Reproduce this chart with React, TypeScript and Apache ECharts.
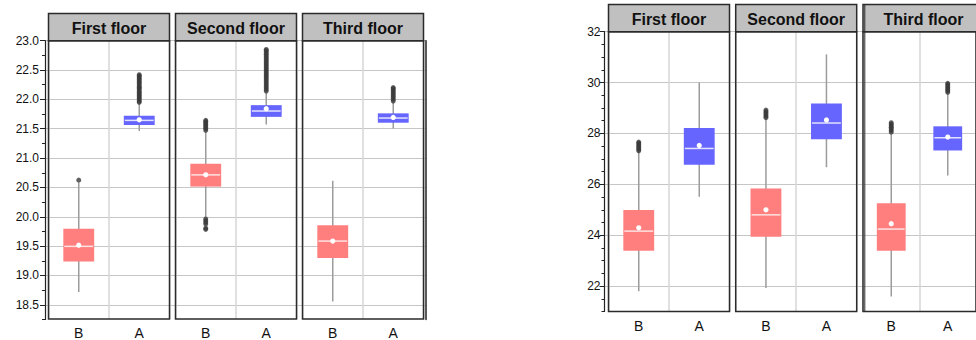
import React, { useEffect, useRef } from 'react';
import * as echarts from 'echarts';

const floors = ['First floor', 'Second floor', 'Third floor'];
const categories = ['B', 'A'];

// each row: [min, Q1, median, Q3, max, mean]  (row 0 = B, row 1 = A)
const leftFirstStats = [
  [18.71, 19.23, 19.49, 19.79, 20.58, 19.51],
  [21.46, 21.56, 21.64, 21.72, 21.93, 21.65],
];
const leftSecondStats = [
  [20.0, 20.51, 20.71, 20.9, 21.45, 20.71],
  [21.57, 21.7, 21.8, 21.9, 22.12, 21.84],
];
const leftThirdStats = [
  [18.55, 19.29, 19.58, 19.85, 20.61, 19.58],
  [21.5, 21.6, 21.68, 21.76, 21.95, 21.69],
];

const rightFirstStats = [
  [21.8, 23.39, 24.16, 24.99, 27.28, 24.29],
  [25.51, 26.77, 27.41, 28.21, 30.0, 27.53],
];
const rightSecondStats = [
  [21.92, 23.94, 24.8, 25.84, 28.58, 25.0],
  [26.67, 27.77, 28.41, 29.18, 31.11, 28.53],
];
const rightThirdStats = [
  [21.59, 23.39, 24.24, 25.26, 28.0, 24.45],
  [26.35, 27.33, 27.83, 28.28, 29.58, 27.86],
];

// outliers: [B values, A values]
const leftFirstOutliers = [
  [20.62],
  [21.95, 21.97, 22.0, 22.02, 22.05, 22.07, 22.1, 22.12, 22.15, 22.18, 22.2, 22.22, 22.25, 22.28, 22.3, 22.33, 22.35, 22.38, 22.4, 22.42],
];
const leftSecondOutliers = [
  [21.47, 21.5, 21.52, 21.55, 21.57, 21.6, 21.62, 21.64, 19.96, 19.93, 19.9, 19.87, 19.8, 19.78],
  [22.14, 22.17, 22.2, 22.23, 22.26, 22.29, 22.32, 22.35, 22.38, 22.41, 22.44, 22.47, 22.5, 22.53, 22.56, 22.59, 22.62, 22.65, 22.68, 22.71, 22.74, 22.77, 22.8, 22.83, 22.85],
];
const leftThirdOutliers = [
  [],
  [21.97, 22.0, 22.03, 22.06, 22.09, 22.12, 22.15, 22.18, 22.2],
];

const rightFirstOutliers = [
  [27.32, 27.38, 27.44, 27.5, 27.56, 27.62, 27.66],
  [],
];
const rightSecondOutliers = [
  [28.62, 28.68, 28.74, 28.8, 28.86, 28.92],
  [],
];
const rightThirdOutliers = [
  [28.05, 28.12, 28.18, 28.24, 28.3, 28.36, 28.42],
  [29.62, 29.68, 29.74, 29.8, 29.86, 29.92, 29.97],
];

const leftTicks = [18.5, 19.0, 19.5, 20.0, 20.5, 21.0, 21.5, 22.0, 22.5, 23.0];
const rightTicks = [22, 24, 26, 28, 30, 32];

const COLOR_B = '#ff7f7f';
const COLOR_A = '#6666ff';
const FONT = '"Liberation Sans", Arial, Helvetica, sans-serif';

type ChartDef = {
  top: number;
  bottom: number;
  axisX: number;
  rightLine: number | null;
  panelLefts: number[];
  panelW: number;
  headerTop: number;
  min: number;
  max: number;
  interval: number;
  ticks: number[];
  fmt: (v: number) => string;
  labelMargin: number;
  stats: number[][][];
  outliers: number[][][];
};

const charts: ChartDef[] = [
  {
    top: 40.7,
    bottom: 319.5,
    axisX: 45,
    rightLine: 426,
    panelLefts: [48.5, 175.5, 302.5],
    panelW: 121,
    headerTop: 13.5,
    min: 18.25,
    max: 23,
    interval: 0.25,
    ticks: leftTicks,
    fmt: (v) => v.toFixed(1),
    labelMargin: 6,
    stats: [leftFirstStats, leftSecondStats, leftThirdStats],
    outliers: [leftFirstOutliers, leftSecondOutliers, leftThirdOutliers],
  },
  {
    top: 31.7,
    bottom: 311.5,
    axisX: 604.5,
    rightLine: null,
    panelLefts: [608.5, 735.7, 863],
    panelW: 121,
    headerTop: 4.5,
    min: 21,
    max: 32,
    interval: 0.5,
    ticks: rightTicks,
    fmt: (v) => String(v),
    labelMargin: 4,
    stats: [rightFirstStats, rightSecondStats, rightThirdStats],
    outliers: [rightFirstOutliers, rightSecondOutliers, rightThirdOutliers],
  },
];

function buildOption() {
  const grid: any[] = [];
  const xAxis: any[] = [];
  const yAxis: any[] = [];
  const series: any[] = [];
  const graphic: any[] = [];

  charts.forEach((c, ci0) => {
    const height = c.bottom - c.top;
    // background grid with horizontal grid lines and the y axis
    const bgIndex = grid.length;
    const bgRight = c.rightLine !== null ? c.rightLine : 1100;
    grid.push({ left: c.axisX, top: c.top, width: bgRight - c.axisX, height, show: false });
    xAxis.push({ gridIndex: bgIndex, type: 'value', show: false, min: 0, max: 1 });
    yAxis.push({
      gridIndex: bgIndex,
      type: 'value',
      position: 'left',
      min: c.min,
      max: c.max,
      interval: c.interval,
      z: 1,
      axisLine: { show: true, lineStyle: { color: '#222', width: 1.2 } },
      axisTick: { show: true, customValues: c.ticks, length: 5, lineStyle: { color: '#222', width: 1 } },
      axisLabel: {
        show: true,
        customValues: c.ticks,
        formatter: (v: number) => c.fmt(v),
        fontSize: 12,
        fontFamily: FONT,
        color: '#111',
        margin: c.labelMargin,
      },
      splitLine: { show: true, lineStyle: { color: '#c6c6c6', width: 1 } },
    });
    yAxis.push({
      gridIndex: bgIndex,
      type: 'value',
      position: 'left',
      offset: 0,
      min: c.min,
      max: c.max,
      interval: c.interval,
      z: 1,
      axisLine: { show: false, onZero: false },
      axisTick: { show: true, length: 3, lineStyle: { color: '#222', width: 1 } },
      axisLabel: { show: false },
      splitLine: { show: false },
    });
    if (c.rightLine !== null) {
      yAxis.push({
        gridIndex: bgIndex,
        type: 'value',
        position: 'right',
        min: c.min,
        max: c.max,
        interval: c.interval,
        z: 6,
        axisLine: { show: true, lineStyle: { color: '#222', width: 1.5 } },
        axisTick: { show: false },
        axisLabel: { show: false },
        splitLine: { show: false },
      });
    }

    c.panelLefts.forEach((pl, p) => {
      const gi = grid.length;
      grid.push({
        left: pl,
        top: c.top,
        width: c.panelW,
        height,
        show: true,
        z: 5,
        backgroundColor: 'transparent',
        borderColor: '#2b2b2b',
        borderWidth: 1.5,
      });
      const xi = xAxis.length;
      xAxis.push({
        gridIndex: gi,
        type: 'category',
        data: categories,
        z: 1,
        axisLine: { show: false },
        axisTick: { show: false },
        axisLabel: { fontSize: 14, fontFamily: FONT, color: '#111', margin: 7 },
        splitLine: { show: true, lineStyle: { color: '#d6d6d6', width: 1.5 } },
      });
      const yi = yAxis.length;
      yAxis.push({ gridIndex: gi, type: 'value', show: false, min: c.min, max: c.max, splitLine: { show: false } });

      const st = c.stats[p];
      series.push({
        type: 'custom',
        xAxisIndex: xi,
        yAxisIndex: yi,
        z: 3,
        encode: { x: 0, y: [1, 2, 3, 4, 5, 6] },
        data: st.map((row, i) => [i, ...row]),
        renderItem: (params: any, api: any) => {
          const ci = api.value(0);
          const pMax = api.coord([ci, api.value(5)]);
          const pMin = api.coord([ci, api.value(1)]);
          const pQ1 = api.coord([ci, api.value(2)]);
          const pMed = api.coord([ci, api.value(3)]);
          const pQ3 = api.coord([ci, api.value(4)]);
          const pMean = api.coord([ci, api.value(6)]);
          const xc = pMed[0];
          const bw = api.size([1, 0])[0] * 0.51;
          const fill = ci === 0 ? COLOR_B : COLOR_A;
          const med = ci === 0 ? '#ffe2e2' : '#e2e2ff';
          return {
            type: 'group',
            children: [
              { type: 'line', shape: { x1: xc, y1: pMax[1], x2: xc, y2: pMin[1] }, style: { stroke: '#9c9c9c', lineWidth: 1.5 } },
              { type: 'rect', shape: { x: xc - bw / 2, y: pQ3[1], width: bw, height: pQ1[1] - pQ3[1] }, style: { fill } },
              { type: 'line', shape: { x1: xc - bw / 2 + 1, y1: pMed[1], x2: xc + bw / 2 - 1, y2: pMed[1] }, style: { stroke: med, lineWidth: 1.5 } },
              { type: 'circle', shape: { cx: xc, cy: pMean[1], r: 2.6 }, style: { fill: '#ffffff' } },
            ],
          };
        },
      });

      const out = c.outliers[p];
      const pts: any[] = [];
      out.forEach((vals, i) => vals.forEach((v) => pts.push([categories[i], v])));
      series.push({
        type: 'scatter',
        xAxisIndex: xi,
        yAxisIndex: yi,
        z: 4,
        symbol: 'circle',
        symbolSize: 5,
        itemStyle: { color: '#3a3a3a' },
        data: pts,
      });

      graphic.push({
        type: 'rect',
        z: 10,
        shape: { x: pl, y: c.headerTop, width: c.panelW, height: c.top - c.headerTop },
        style: { fill: '#c0c0c0', stroke: '#2b2b2b', lineWidth: 1.5 },
      });
      graphic.push({
        type: 'text',
        z: 11,
        x: pl + c.panelW / 2,
        y: (c.headerTop + c.top) / 2 + 1,
        style: {
          text: floors[p],
          fontSize: 16,
          fontWeight: 'bold',
          fontFamily: FONT,
          fill: '#111',
          align: 'center',
          verticalAlign: 'middle',
        },
      });
    });

    // doubled left border of the last panel in the right-hand chart
    if (ci0 === 1) {
      const pl = c.panelLefts[2];
      graphic.push({
        type: 'line',
        z: 12,
        shape: { x1: pl + 1.8, y1: c.headerTop, x2: pl + 1.8, y2: c.bottom },
        style: { stroke: '#2b2b2b', lineWidth: 1 },
      });
    }
  });

  return {
    animation: false,
    backgroundColor: '#ffffff',
    grid,
    xAxis,
    yAxis,
    series,
    graphic,
  };
}

export default function App() {
  const ref = useRef<HTMLDivElement>(null);
  useEffect(() => {
    document.body.style.margin = '0';
    if (!ref.current) return;
    const chart = echarts.init(ref.current, undefined, { renderer: 'svg' });
    chart.setOption(buildOption() as any);
    return () => chart.dispose();
  }, []);
  return <div ref={ref} style={{ width: 976, height: 340, position: 'fixed', left: 0, top: 0, overflow: 'hidden' }} />;
}
